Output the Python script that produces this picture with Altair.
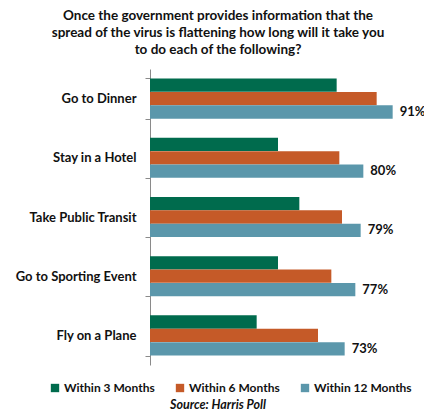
import altair as alt
import pandas as pd

categories = ["Go to Dinner", "Stay in a Hotel", "Take Public Transit", "Go to Sporting Event", "Fly on a Plane"]
series = ["Within 3 Months", "Within 6 Months", "Within 12 Months"]
within3 = [70, 48, 56, 48, 40]
within6 = [85, 71, 72, 68, 63]
within12 = [91, 80, 79, 77, 73]
colors = ["#006B4D", "#C55A28", "#5B97AB"]
title_lines = [
    "Once the government provides information that the",
    "spread of the virus is flattening how long will it take you",
    "to do each of the following?",
]
source_text = "Source: Harris Poll"

rows = []
for i, c in enumerate(categories):
    for s, vals in zip(series, [within3, within6, within12]):
        rows.append({"category": c, "series": s, "value": vals[i],
                     "label": f"{vals[i]}%" if s == "Within 12 Months" else ""})
df = pd.DataFrame(rows)

FONT = "Lato"

y_enc = alt.Y("category:N", sort=categories,
              scale=alt.Scale(paddingInner=0.32, paddingOuter=0.16),
              axis=alt.Axis(title=None, labelFont=FONT, labelFontWeight="bold",
                            labelFontSize=13, labelColor="#111111", labelPadding=9,
                            domainColor="#8a8a8a", tickColor="#8a8a8a", tickSize=5,
                            tickBand="extent", labelLimit=200))
yoff = alt.YOffset("series:N", sort=series, scale=alt.Scale(domain=series, paddingInner=0, paddingOuter=0))
x_enc = alt.X("value:Q", scale=alt.Scale(domain=[0, 96]), axis=None)

bars = alt.Chart(df).mark_bar(size=13.3).encode(
    x=x_enc, y=y_enc, yOffset=yoff,
    color=alt.Color("series:N", sort=series,
                    scale=alt.Scale(domain=series, range=colors),
                    legend=alt.Legend(title=None, orient="none", direction="horizontal",
                                      legendX=-101, legendY=313, symbolType="square",
                                      symbolSize=70, symbolStrokeWidth=0,
                                      labelFont=FONT, labelFontWeight="bold",
                                      labelFontSize=12, labelColor="#111111",
                                      columnPadding=19, symbolOffset=0, labelOffset=3)),
)

labels = alt.Chart(df).transform_filter(alt.datum.series == "Within 12 Months").mark_text(
    align="left", baseline="middle", dx=7, font=FONT, fontWeight="bold",
    fontSize=13, color="#111111"
).encode(x=x_enc, y=alt.Y("category:N", sort=categories), yOffset=yoff, text="label:N")

src = alt.Chart(pd.DataFrame({"t": [source_text]})).mark_text(
    align="center", baseline="middle", font=FONT, fontWeight="bold", fontStyle="italic",
    fontSize=12.5, color="#111111"
).encode(x=alt.value(68), y=alt.value(336), text="t:N")

chart = alt.layer(bars, labels, src).properties(
    width=256, height=296,
    title=alt.TitleParams(title_lines, anchor="middle", dx=-60, font=FONT, fontSize=13.5,
                          fontWeight="bold", color="#111111", lineHeight=17, offset=7),
    autosize=alt.AutoSizeParams(type="none"),
    padding={"left": 142, "top": 61, "right": 18, "bottom": 48},
).configure_view(stroke=None)

chart.save("out.html", embed_options={"renderer": "svg", "actions": False})
